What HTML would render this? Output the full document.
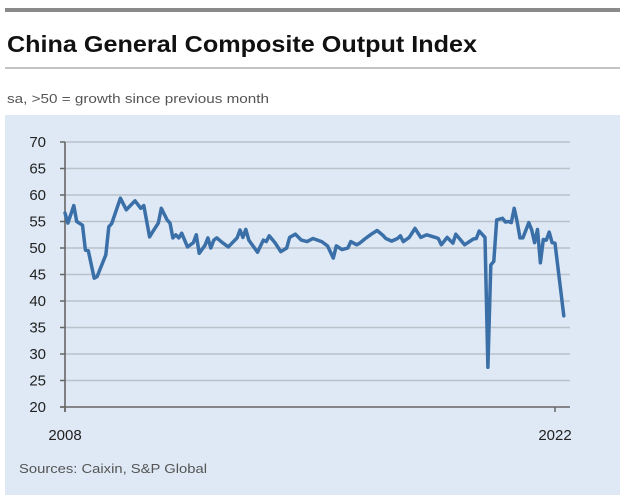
<!DOCTYPE html>
<html><head><meta charset="utf-8"><style>
html,body{margin:0;padding:0;background:#fff;}
svg{display:block;font-family:"Liberation Sans",sans-serif;}
</style></head><body>
<svg id="chart" width="630" height="504" viewBox="0 0 630 504">
<rect x="5" y="8" width="615" height="4" fill="#8a8a8a"/>
<text x="7" y="52" font-size="23" font-weight="bold" fill="#111" textLength="470" lengthAdjust="spacingAndGlyphs">China General Composite Output Index</text>
<rect x="5" y="67.5" width="615" height="1" fill="#8a8a8a"/>
<text x="7" y="103" font-size="13" fill="#555" textLength="262" lengthAdjust="spacingAndGlyphs">sa, &gt;50 = growth since previous month</text>
<rect x="5" y="115" width="615" height="380" fill="#dee9f5"/>
<g id="grid"></g>
<g id="yticks"></g>
<g id="series"></g>
<text x="65" y="440" font-size="15" fill="#222" text-anchor="middle">2008</text>
<text x="555" y="440" font-size="15" fill="#222" text-anchor="middle">2022</text>
<text x="19" y="473" font-size="13" fill="#555" textLength="188" lengthAdjust="spacingAndGlyphs">Sources: Caixin, S&amp;P Global</text>
</svg>
<script>
const yTicks = [20,25,30,35,40,45,50,55,60,65,70];
const months = [0,1,3,4,6,7,8,10,11,14,15,16,19,21,24,26,27,29,30,32,33,35,36,37,38,39,40,42,44,45,46,48,49,50,51,52,54,56,57,59,60,61,62,63,66,68,69,70,72,74,76,77,79,81,83,85,88,90,92,93,95,97,98,100,101,103,105,107,109,110,112,114,115,116,118,120,122,124,127,128,129,131,133,134,137,140,141,142,144,145,146,147,148,150,151,152,153,154,155,156,157,159,160,161,162,163,164,165,166,167,168,171];
const values = [56.6,54.7,58,55,54.3,49.6,49.5,44.3,44.6,48.7,54,54.6,59.4,57.2,58.9,57.5,58,52.1,53,54.7,57.5,55.3,54.7,51.9,52.5,51.9,52.8,50.2,51,52.5,49,50.5,51.9,50,51.5,51.9,51,50.2,50.8,51.9,53.4,52,53.5,51.5,49.2,51.5,51.2,52.3,51,49.3,50,52,52.6,51.5,51.2,51.8,51.2,50.4,48.1,50.4,49.7,50,51.2,50.6,50.9,51.8,52.6,53.3,52.4,51.8,51.3,51.8,52.3,51.2,52,53.7,52,52.5,52,51.8,50.6,52,50.9,52.6,50.6,51.7,51.8,53.2,52,27.5,46.8,47.5,55.3,55.6,54.9,55,54.8,57.5,55,51.9,51.9,54.8,53.4,51,53.5,47.2,51.6,51.5,53,51,50.9,37.2];
const NS='http://www.w3.org/2000/svg';
const x0=65, pxPerMonth=490/168, yTop=142, yBot=407, vMin=20, vMax=70;
function xs(m){return x0+m*pxPerMonth;}
function ys(v){return yBot-(v-vMin)/(vMax-vMin)*(yBot-yTop);}
const grid=document.getElementById('grid'), yt=document.getElementById('yticks');
yTicks.forEach(t=>{
  const y=ys(t);
  if(t>vMin){
    const l=document.createElementNS(NS,'line');
    l.setAttribute('x1',x0);l.setAttribute('x2',570);l.setAttribute('y1',y);l.setAttribute('y2',y);
    l.setAttribute('stroke','#b9c1ca');l.setAttribute('stroke-width','1.6');
    
    
    grid.appendChild(l);
  }
  const tk=document.createElementNS(NS,'line');
  tk.setAttribute('x1',x0-5);tk.setAttribute('x2',x0);tk.setAttribute('y1',y);tk.setAttribute('y2',y);
  tk.setAttribute('stroke','#666');tk.setAttribute('stroke-width','1.5');
  
  
  yt.appendChild(tk);
  const tx=document.createElementNS(NS,'text');
  tx.setAttribute('x',46);tx.setAttribute('y',y+5);tx.setAttribute('text-anchor','end');
  tx.setAttribute('font-size','15');tx.setAttribute('fill','#222');
  tx.textContent=t;
  
  
  yt.appendChild(tx);
});
const xa=document.createElementNS(NS,'line');
xa.setAttribute('x1',x0-5);xa.setAttribute('x2',570);xa.setAttribute('y1',yBot);xa.setAttribute('y2',yBot);
xa.setAttribute('stroke','#666');xa.setAttribute('stroke-width','1.6');


yt.appendChild(xa);
const ya=document.createElementNS(NS,'line');
ya.setAttribute('x1',x0);ya.setAttribute('x2',x0);ya.setAttribute('y1',yTop);ya.setAttribute('y2',yBot+5);
ya.setAttribute('stroke','#666');ya.setAttribute('stroke-width','1.6');


yt.appendChild(ya);
[x0,555].forEach(x=>{
  const t=document.createElementNS(NS,'line');
  t.setAttribute('x1',x);t.setAttribute('x2',x);t.setAttribute('y1',yBot);t.setAttribute('y2',yBot+5);
  t.setAttribute('stroke','#666');t.setAttribute('stroke-width','1.5');
  
  
  yt.appendChild(t);
});
const p=document.createElementNS(NS,'path');
p.setAttribute('d',months.map((m,i)=>(i?'L':'M')+xs(m).toFixed(1)+','+ys(values[i]).toFixed(1)).join(''));
p.setAttribute('fill','none');p.setAttribute('stroke','#3a6fa8');p.setAttribute('stroke-width','3.5');
p.setAttribute('stroke-linejoin','round');p.setAttribute('stroke-linecap','round');


document.getElementById('series').appendChild(p);
</script>
</body></html>
